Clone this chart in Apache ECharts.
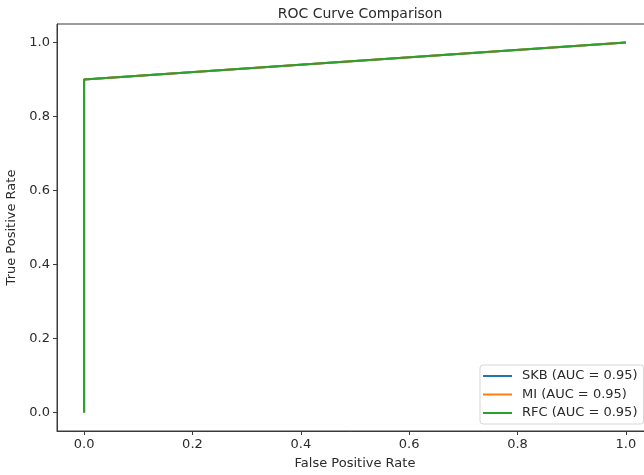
<!DOCTYPE html>
<html>
<head>
<meta charset="utf-8">
<script src="https://cdn.jsdelivr.net/npm/echarts@6/dist/echarts.min.js"></script>
<style>
  html, body { margin: 0; padding: 0; background: #ffffff; }
  #chart { width: 644px; height: 475px; }
</style>
</head>
<body>
<div id="chart"></div>
<script>
// ROC curves for three feature-selection methods
const skbFpr = [0, 0, 1];
const skbTpr = [0, 0.9, 1];
const miFpr  = [0, 0, 1];
const miTpr  = [0, 0.9, 1];
const rfcFpr = [0, 0, 1];
const rfcTpr = [0, 0.9, 1];

const seriesNames = ['SKB (AUC = 0.95)', 'MI (AUC = 0.95)', 'RFC (AUC = 0.95)'];
const seriesColors = ['#1f77b4', '#ff7f0e', '#2ca02c'];
const xTicks = [0, 0.2, 0.4, 0.6, 0.8, 1.0];
const yTicks = [0, 0.2, 0.4, 0.6, 0.8, 1.0];

const FONT = 'DejaVu Sans';
const TEXT = '#2b2b2b';
const SPINE = '#3a3a3a';

function pairs(xs, ys) { return xs.map((x, i) => [x, ys[i]]); }

const curves = [pairs(skbFpr, skbTpr), pairs(miFpr, miTpr), pairs(rfcFpr, rfcTpr)];

function axisCommon(ticks) {
  return {
    type: 'value', min: -0.05, max: 1.05,
    nameLocation: 'middle',
    nameTextStyle: { fontFamily: FONT, fontSize: 13, color: TEXT },
    axisLine: { show: true, onZero: false, lineStyle: { color: SPINE, width: 1 } },
    axisTick: { show: true, customValues: ticks, length: 4, inside: false, lineStyle: { color: SPINE } },
    axisLabel: { customValues: ticks, fontFamily: FONT, fontSize: 13, color: TEXT, margin: 7,
      formatter: v => v.toFixed(1) },
    splitLine: { show: false }
  };
}

const chart = echarts.init(document.getElementById('chart'));
chart.setOption({
  animation: false,
  backgroundColor: '#ffffff',
  title: {
    text: 'ROC Curve Comparison',
    left: 355,
    textAlign: 'center',
    top: 2,
    textStyle: { fontFamily: FONT, fontSize: 14, fontWeight: 'normal', color: TEXT }
  },
  grid: {
    left: 57, top: 24, right: -9, bottom: 44,
    outerBoundsMode: 'none', containLabel: false,
    show: true, borderColor: SPINE, borderWidth: 1, backgroundColor: 'transparent'
  },
  legend: {
    orient: 'vertical',
    left: 480, top: 365,
    padding: [4, 6, 4, 3],
    backgroundColor: 'rgba(255,255,255,0.8)',
    borderColor: '#d6d6d6', borderWidth: 1, borderRadius: 3,
    itemWidth: 29, itemHeight: 2, itemGap: 4.5,
    icon: 'rect',
    textStyle: { fontFamily: FONT, fontSize: 13, color: TEXT, lineHeight: 14, padding: [0, 0, 0, 5] },
    data: seriesNames
  },
  xAxis: Object.assign(axisCommon(xTicks), { name: 'False Positive Rate', nameGap: 26 }),
  yAxis: Object.assign(axisCommon(yTicks), { name: 'True Positive Rate', nameGap: 31, nameRotate: 90 }),
  series: curves.map((d, i) => ({
    name: seriesNames[i],
    type: 'line',
    data: d,
    showSymbol: false,
    symbol: 'none',
    color: seriesColors[i],
    lineStyle: { width: 2, color: seriesColors[i] },
    z: 2 + i
  }))
});
</script>
</body>
</html>
